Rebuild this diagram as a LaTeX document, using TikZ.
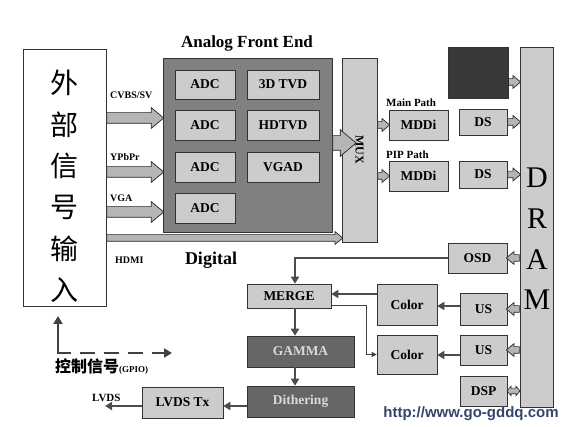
\documentclass[tikz,border=0pt]{standalone}
\usepackage{fontspec}
\setmainfont{Liberation Serif}
\newfontfamily\cjk{Noto Sans CJK SC}
\newfontfamily\websans{Liberation Sans}
\usetikzlibrary{shapes.arrows,arrows.meta,calc}
\definecolor{boxGray}{gray}{0.80}
\definecolor{afeGray}{gray}{0.50}
\definecolor{darkGray}{gray}{0.40}
\definecolor{blockGray}{gray}{0.22}
\definecolor{webBlue}{HTML}{34456A}

\begin{document}
\begin{tikzpicture}[x=1pt, y=-1pt,
    every node/.style={font=\bfseries\fontsize{13.5}{15}\selectfont, inner sep=0pt},
    lbox/.style={draw=black!80, fill=boxGray, line width=0.6pt},
    dbox/.style={draw=black!80, fill=darkGray, line width=0.6pt, text=gray!30},
    lab/.style={font=\bfseries\fontsize{10}{11}\selectfont},
    fatarr/.style={single arrow, draw=black!85, fill=gray!58, line width=0.7pt,
                   inner sep=5pt, single arrow head extend=5pt,
                   single arrow tip angle=80, minimum height=#1},
    smarr/.style={fatarr=#1, inner sep=3pt, single arrow head extend=3pt},
    tarr/.style={-{Triangle[length=7pt,width=8pt]}, line width=2.4pt, black!70},
  ]
  \useasboundingbox (0,0) rectangle (565,427);

  % external input
  \node[draw=black!80, line width=0.6pt, fill=white,
        minimum width=83, minimum height=257] (ext) at (64.5,177.5) {};
  \node[font=\cjk\fontsize{28}{41.4}\selectfont, align=center] (exttxt)
    at (64.5,186.5) {外\\部\\信\\号\\输\\入};

  % analog front end
  \node[font=\bfseries\fontsize{17}{19}\selectfont] (afetitle) at (247,43) {Analog Front End};
  \node[draw=black!80, fill=afeGray, line width=0.6pt,
        minimum width=169, minimum height=174] (afe) at (247.5,145) {};
  \node[lbox, minimum width=60, minimum height=29] (adc1) at (205,84.5) {ADC};
  \node[lbox, minimum width=72, minimum height=29] (tvd) at (283,84.5) {3D TVD};
  \node[lbox, minimum width=60, minimum height=30] (adc2) at (205,125) {ADC};
  \node[lbox, minimum width=72, minimum height=30] (hdtvd) at (283,125) {HDTVD};
  \node[lbox, minimum width=60, minimum height=30] (adc3) at (205,167) {ADC};
  \node[lbox, minimum width=72, minimum height=30] (vgad) at (283,167) {VGAD};
  \node[lbox, minimum width=60, minimum height=30] (adc4) at (205,208) {ADC};
  \node[font=\bfseries\fontsize{18}{20}\selectfont] (digital) at (211,260) {Digital};

  % inputs
  \node[fatarr=57, anchor=tail] (incvbs) at (ext.east |- 0,118) {};
  \node[fatarr=57, anchor=tail] (inypbpr) at (ext.east |- 0,172) {};
  \node[fatarr=57, anchor=tail] (invga) at (ext.east |- 0,212) {};
  \node[lab, anchor=west] (lcvbs) at (110,95) {CVBS/SV};
  \node[lab, anchor=west] (lypbpr) at (110,157) {YPbPr};
  \node[lab, anchor=west] (lvga) at (110,198) {VGA};
  \node[lab, anchor=west] (lhdmi) at (115,260) {HDMI};

  % mux and paths
  \node[lbox, minimum width=35, minimum height=184] (mux) at (359.5,150) {};
  \node[font=\bfseries\fontsize{12}{13}\selectfont, rotate=-90] (muxtxt) at (mux) {MUX};
  \node[smarr=236, anchor=tail] (inhdmi) at (ext.east |- 0,238) {};
  \node[fatarr=10, inner sep=7pt, single arrow head extend=6pt, anchor=tail]
    (afemux) at (afe.east |- 0,143) {};
  \node[font=\bfseries\fontsize{11}{12}\selectfont, anchor=west] (lmain) at (386,103) {Main Path};
  \node[font=\bfseries\fontsize{11}{12}\selectfont, anchor=west] (lpip) at (386,155) {PIP Path};
  \node[lbox, minimum width=59, minimum height=30] (mddi1) at (418.5,125) {MDDi};
  \node[lbox, minimum width=59, minimum height=30] (mddi2) at (418.5,176) {MDDi};
  \node[lbox, minimum width=48, minimum height=26] (ds1) at (483,122) {DS};
  \node[lbox, minimum width=48, minimum height=27] (ds2) at (483,174.5) {DS};
  \node[draw=black!80, fill=blockGray, minimum width=60, minimum height=51] (blk) at (478,72.5) {};
  \node[smarr=12, anchor=tail] (muxm1) at (mux.east |- mddi1) {};
  \node[smarr=12, anchor=tail] (muxm2) at (mux.east |- mddi2) {};

  % dram
  \node[lbox, minimum width=33, minimum height=360] (dram) at (536.5,227) {};
  \node[font=\fontsize{30}{40.7}\selectfont, align=center] (dramtxt) at (537,239) {D\\R\\A\\M};
  \node[smarr=12, anchor=tail] (blkdram) at (blk.east |- 0,82) {};
  \node[smarr=13, anchor=tail] (ds1dram) at (ds1.east) {};
  \node[smarr=13, anchor=tail] (ds2dram) at (ds2.east) {};

  % output side
  \node[lbox, minimum width=59, minimum height=30] (osd) at (477.5,258) {OSD};
  \node[lbox, minimum width=47, minimum height=32] (us1) at (483.5,309) {US};
  \node[lbox, minimum width=47, minimum height=30] (us2) at (483.5,350) {US};
  \node[lbox, minimum width=47, minimum height=30] (dsp) at (483.5,391) {DSP};
  \node[smarr=13, shape border rotate=180, anchor=tail] (dramosd) at (dram.west |- osd) {};
  \node[smarr=13, shape border rotate=180, anchor=tail] (dramus1) at (dram.west |- us1) {};
  \node[smarr=13, shape border rotate=180, anchor=tail] (dramus2) at (dram.west |- us2) {};
  \node[double arrow, draw=black!85, fill=gray!58, line width=0.6pt, inner sep=2.5pt,
        double arrow head extend=2pt, double arrow tip angle=100, minimum height=13] (dramdsp)
    at ($(dsp.east)!0.5!(dram.west |- dsp)$) {};
  \node[lbox, minimum width=60, minimum height=41] (col1) at (407,304.5) {Color};
  \node[lbox, minimum width=60, minimum height=39] (col2) at (407,354.5) {Color};
  \node[lbox, minimum width=84, minimum height=24] (merge) at (289,296) {MERGE};
  \node[dbox, minimum width=107, minimum height=31] (gamma) at (300.5,351.5) {GAMMA};
  \node[dbox, minimum width=107, minimum height=31] (dith) at (300.5,401.5) {Dithering};
  \node[lbox, minimum width=81, minimum height=31] (lvdstx) at (182.5,402.5) {LVDS Tx};
  \node[font=\bfseries\fontsize{11}{12}\selectfont, anchor=west] (llvds) at (92,398) {LVDS};
  \coordinate (lvdsout) at (105,406);

  \draw[tarr] (osd.west) -| ([xshift=6]merge.north);
  \draw[tarr] (col1.west |- 0,294) -- (merge.east |- 0,294);
  \draw[tarr] (us1.west |- 0,306) -- (col1.east |- 0,306);
  \draw[tarr] (us2.west |- 0,355) -- (col2.east |- 0,355);
  \draw[-{Triangle[length=5pt,width=5pt]}, line width=0.8pt, black!75]
    (merge.east |- 0,305) -- (366,305) |- (col2.west);
  \draw[tarr] ([xshift=6]merge.south) -- ([xshift=-5.5]gamma.north);
  \draw[tarr] ([xshift=-5.5]gamma.south) -- ([xshift=-5.5]dith.north);
  \draw[tarr] (dith.west |- lvdsout) -- (lvdsout -| lvdstx.east);
  \draw[tarr] (lvdstx.west |- lvdsout) -- (lvdsout);

  % control signal
  \coordinate (gpioup) at (58,316);
  \coordinate (gpioright) at (172,353);
  \draw[{Triangle[length=8pt,width=9pt]}-{Triangle[length=8pt,width=9pt]},
        line width=2.6pt, black!75,
        dash pattern=on 42pt off 9pt on 15pt off 9pt on 15pt off 9pt on 15pt off 9pt on 40pt]
    (gpioup) |- (gpioright);
  \node[anchor=west] (lgpio) at (55,367)
    {{\cjk\bfseries\fontsize{16}{17}\selectfont 控制信号}{\fontsize{9}{10}\selectfont(GPIO)}};

  \node[font=\websans\bfseries\fontsize{15}{16}\selectfont, text=webBlue] (web) at (471,414)
    {http://www.go-gddq.com};
\end{tikzpicture}
\end{document}
